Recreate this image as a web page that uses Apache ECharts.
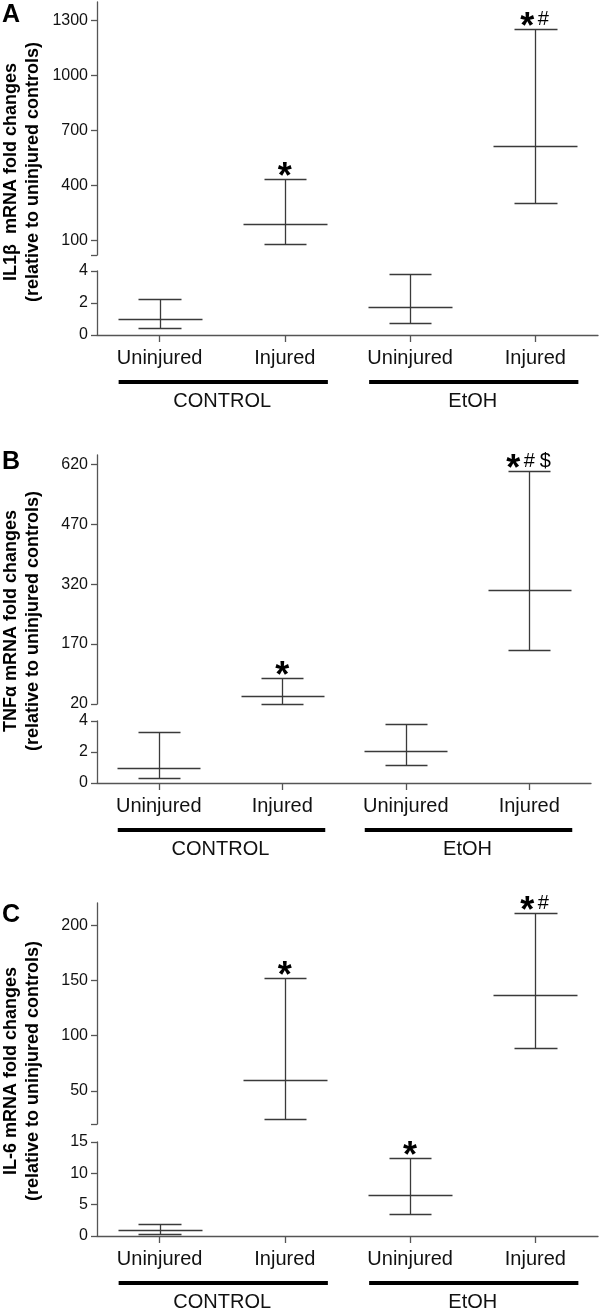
<!DOCTYPE html>
<html><head><meta charset="utf-8">
<script src="https://cdn.jsdelivr.net/npm/echarts@6/dist/echarts.min.js"></script>
<style>html,body{margin:0;padding:0;background:#fff}#c{width:600px;height:1310px}</style>
</head><body><div id="c"></div>
<script>
// ---------- data ----------
const categories = ['Uninjured', 'Injured', 'Uninjured', 'Injured'];
const groups = ['CONTROL', 'EtOH'];

// Panel A: IL1β
const A_mean = [1.0, 191, 1.73, 617];
const A_low  = [0.46, 82, 0.77, 305];
const A_high = [2.25, 435, 3.81, 1255];
const A_sig  = ['', '*', '', '*#'];
const A_upperTicks = [100, 400, 700, 1000, 1300];

// Panel B: TNFα
const B_mean = [1.0, 41, 2.09, 305];
const B_low  = [0.32, 21, 1.15, 155];
const B_high = [3.27, 86, 3.82, 604];
const B_sig  = ['', '*', '', '*#$'];
const B_upperTicks = [20, 170, 320, 470, 620];

// Panel C: IL-6
const C_mean = [1.0, 60.2, 6.6, 136.4];
const C_low  = [0.38, 24.7, 3.58, 88.5];
const C_high = [1.87, 151.8, 12.4, 211.2];
const C_sig  = ['', '*', '*', '*#'];
const C_upperTicks = [50, 100, 150, 200];

// ---------- layout ----------
const FONT = '"Liberation Sans", Arial, Helvetica, sans-serif';
const AXIS_COLOR = '#555';
const BAR_COLOR = '#3a3a3a';

const panels = [
  { letter: 'A', letterY: 15, title: 'IL1β  mRNA fold changes\n(relative to uninjured controls)', titleY: 172,
    mean: A_mean, low: A_low, high: A_high, sig: A_sig,
    up: { min: 20, max: 1400, labels: A_upperTicks, ticks: [20].concat(A_upperTicks) },
    lo: { min: 0, max: 4, interval: 2 },
    L: { upTop: 2, upBottom: 255, loTop: 271, loBottom: 335, right: 2 } },
  { letter: 'B', letterY: 462, title: 'TNFα mRNA fold changes\n(relative to uninjured controls)', titleY: 621,
    mean: B_mean, low: B_low, high: B_high, sig: B_sig,
    up: { min: 20, max: 643, labels: B_upperTicks, ticks: B_upperTicks },
    lo: { min: 0, max: 4, interval: 2 },
    L: { upTop: 455, upBottom: 704, loTop: 721, loBottom: 783, right: 9 } },
  { letter: 'C', letterY: 915, title: 'IL-6 mRNA fold changes\n(relative to uninjured controls)', titleY: 1071,
    mean: C_mean, low: C_low, high: C_high, sig: C_sig,
    up: { min: 20, max: 220, labels: C_upperTicks, ticks: [20].concat(C_upperTicks) },
    lo: { min: 0, max: 15, interval: 5 },
    L: { upTop: 903, upBottom: 1124, loTop: 1142, loBottom: 1236, right: 2 } }
];

function makeRender(sig) {
  return function (params, api) {
    const i = api.value(0);
    const pm = api.coord([i, api.value(1)]);
    const cx = pm[0], my = pm[1];
    const ly = api.coord([i, api.value(2)])[1];
    const hy = api.coord([i, api.value(3)])[1];
    const band = api.size([1, 0])[0];
    const hm = band * 0.335, hc = band * 0.17;
    const r = v => Math.round(v) + 0.5;
    const ls = { stroke: BAR_COLOR, lineWidth: 1.3 };
    const ch = [
      { type: 'line', shape: { x1: r(cx - hm), y1: r(my), x2: r(cx + hm), y2: r(my) }, style: ls },
      { type: 'line', shape: { x1: r(cx), y1: r(hy), x2: r(cx), y2: r(ly) }, style: ls },
      { type: 'line', shape: { x1: r(cx - hc), y1: r(hy), x2: r(cx + hc), y2: r(hy) }, style: ls },
      { type: 'line', shape: { x1: r(cx - hc), y1: r(ly), x2: r(cx + hc), y2: r(ly) }, style: ls }
    ];
    const s = sig[i];
    if (s) {
      const syms = s.split('');
      const n = syms.length;
      syms.forEach((c, k) => {
        const x = cx + (k - (n - 1) / 2) * 16;
        if (c === '*') {
          ch.push({ type: 'text', x: x, y: hy - 1,
            style: { text: c, fill: '#000', font: 'bold 36px ' + FONT, align: 'center', verticalAlign: 'middle' } });
        } else {
          ch.push({ type: 'text', x: x, y: hy - 9,
            style: { text: c, fill: '#000', font: '20px ' + FONT, align: 'center', verticalAlign: 'middle' } });
        }
      });
    }
    return { type: 'group', children: ch };
  };
}

const plain = v => String(v);
const grids = [], xAxes = [], yAxes = [], series = [];
panels.forEach((p) => {
  const L = p.L;
  const gu = grids.length;
  grids.push({ left: 97, right: L.right, top: L.upTop, height: L.upBottom - L.upTop });
  xAxes.push({ gridIndex: gu, type: 'category', data: categories, show: false });
  yAxes.push({ gridIndex: gu, type: 'value', min: p.up.min, max: p.up.max,
    axisLine: { show: true, lineStyle: { color: AXIS_COLOR, width: 1.3 } },
    axisTick: { show: true, length: 6, customValues: p.up.ticks, lineStyle: { color: AXIS_COLOR, width: 1.3 } },
    axisLabel: { customValues: p.up.labels, formatter: plain, margin: 9, fontSize: 16, color: '#111', fontFamily: FONT },
    splitLine: { show: false } });
  const gl = grids.length;
  grids.push({ left: 97, right: L.right, top: L.loTop, height: L.loBottom - L.loTop });
  xAxes.push({ gridIndex: gl, type: 'category', data: categories,
    axisLine: { show: true, lineStyle: { color: AXIS_COLOR, width: 1.3 } },
    axisTick: { show: true, alignWithLabel: true, length: 7, lineStyle: { color: AXIS_COLOR, width: 1.3 } },
    axisLabel: { interval: 0, margin: 13, fontSize: 20, color: '#111', fontFamily: FONT } });
  yAxes.push({ gridIndex: gl, type: 'value', min: p.lo.min, max: p.lo.max, interval: p.lo.interval,
    axisLine: { show: true, lineStyle: { color: AXIS_COLOR, width: 1.3 } },
    axisTick: { show: true, length: 6, lineStyle: { color: AXIS_COLOR, width: 1.3 } },
    axisLabel: { formatter: plain, margin: 9, fontSize: 16, color: '#111', fontFamily: FONT },
    splitLine: { show: false } });
  const upData = [], loData = [];
  p.mean.forEach((m, i) => {
    const row = [i, m, p.low[i], p.high[i]];
    (m > p.lo.max ? upData : loData).push(row);
  });
  series.push({ type: 'custom', xAxisIndex: gu, yAxisIndex: gu, renderItem: makeRender(p.sig),
    data: upData, encode: { x: 0, y: [1, 2, 3] }, silent: true, clip: false });
  series.push({ type: 'custom', xAxisIndex: gl, yAxisIndex: gl, renderItem: makeRender(p.sig),
    data: loData, encode: { x: 0, y: [1, 2, 3] }, silent: true, clip: false });
});

const chart = echarts.init(document.getElementById('c'));
chart.setOption({ animation: false, grid: grids, xAxis: xAxes, yAxis: yAxes, series: series });

// decorations: panel letters, y titles, group bars and labels (positions from the axes)
const graphic = [];
panels.forEach((p, pi) => {
  graphic.push({ type: 'text', x: 11, y: p.letterY,
    style: { text: p.letter, font: 'bold 25px ' + FONT, fill: '#000', align: 'center', verticalAlign: 'middle' } });
  graphic.push({ type: 'text', x: 22, y: p.titleY, rotation: Math.PI / 2,
    style: { text: p.title, font: 'bold 18px ' + FONT, lineHeight: 22, fill: '#000', align: 'center', verticalAlign: 'middle' } });
  const xi = pi * 2 + 1;
  const axisY = chart.convertToPixel({ yAxisIndex: xi }, p.lo.min);
  groups.forEach((g, gi) => {
    const xa = chart.convertToPixel({ xAxisIndex: xi }, gi * 2);
    const xb = chart.convertToPixel({ xAxisIndex: xi }, gi * 2 + 1);
    graphic.push({ type: 'rect', shape: { x: xa - 41, y: axisY + 45, width: (xb + 43) - (xa - 41), height: 4 },
      style: { fill: '#000' } });
    graphic.push({ type: 'text', x: (xa + xb) / 2, y: axisY + 66,
      style: { text: g, font: '20px ' + FONT, fill: '#111', align: 'center', verticalAlign: 'middle' } });
  });
});
chart.setOption({ graphic: graphic });
</script>
</body></html>
